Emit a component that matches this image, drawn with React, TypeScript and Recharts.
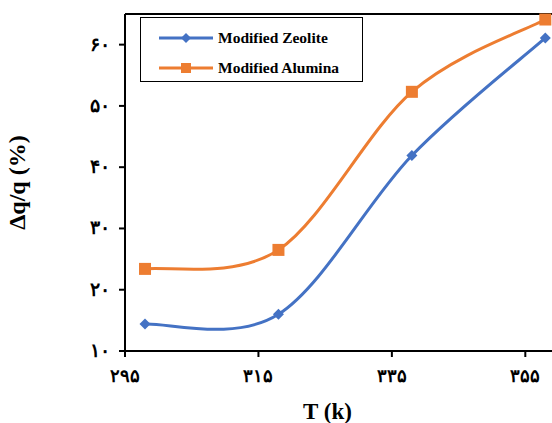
import React from 'react';
import { LineChart, Line, XAxis, YAxis, ReferenceLine, Legend, Label } from 'recharts';

const temps = [298, 318, 338, 358];
const zeolite = [14.4, 16.0, 41.9, 61.1];
const alumina = [23.4, 26.5, 52.3, 64.1];
const xTicks = [295, 315, 335, 355];
const yTicks = [10, 20, 30, 40, 50, 60];
const seriesNames = ['Modified Zeolite', 'Modified Alumina'];
const colors = ['#4472C4', '#ED7D31'];

const data = temps.map((t, i) => ({ t, zeolite: zeolite[i], alumina: alumina[i] }));

const toPersian = (n: number) => String(n).replace(/\d/g, (d) => '۰۱۲۳۴۵۶۷۸۹'[Number(d)]);

function excelCurve(context: any) {
  let pts: [number, number][] = [];
  return {
    areaStart() {},
    areaEnd() {},
    lineStart() { pts = []; },
    lineEnd() {
      if (!pts.length) return;
      context.moveTo(pts[0][0], pts[0][1]);
      const t = 1 / 6;
      for (let i = 0; i < pts.length - 1; i++) {
        const p0 = pts[i - 1] || pts[i];
        const p1 = pts[i];
        const p2 = pts[i + 1];
        const p3 = pts[i + 2] || p2;
        context.bezierCurveTo(
          p1[0] + (p2[0] - p0[0]) * t, p1[1] + (p2[1] - p0[1]) * t,
          p2[0] - (p3[0] - p1[0]) * t, p2[1] - (p3[1] - p1[1]) * t,
          p2[0], p2[1]
        );
      }
    },
    point(x: number, y: number) { pts.push([x, y]); },
  };
}

const Diamond = (props: any) => {
  const { cx, cy } = props;
  if (cx == null || cy == null) return null;
  const r = 5.5;
  return <path d={`M${cx},${cy - r}L${cx + r},${cy}L${cx},${cy + r}L${cx - r},${cy}Z`} fill={colors[0]} />;
};

const Square = (props: any) => {
  const { cx, cy } = props;
  if (cx == null || cy == null) return null;
  const s = 6;
  return <rect x={cx - s} y={cy - s} width={2 * s} height={2 * s} fill={colors[1]} />;
};

const font = '"Times New Roman", "Liberation Serif", serif';

const XTick = (props: any) => {
  const { x, y, payload } = props;
  return (
    <text x={x} y={y + 23} textAnchor="middle" fontFamily={font} fontWeight="bold" fontSize={18} fill="#000">
      {toPersian(payload.value)}
    </text>
  );
};

const YTick = (props: any) => {
  const { x, y, payload } = props;
  return (
    <text x={x - 7} y={y + 6} textAnchor="end" fontFamily={font} fontWeight="bold" fontSize={19} fill="#000">
      {toPersian(payload.value)}
    </text>
  );
};

const XLabel = (props: any) => {
  const vb = props.viewBox || {};
  return (
    <text x={vb.x + vb.width / 2 - 11} y={419} textAnchor="middle" fontFamily={font} fontWeight="bold" fontSize={23} fill="#000">
      T (k)
    </text>
  );
};

const LegendContent = () => (
  <div style={{ position: 'absolute', left: 140, top: 17, width: 221, height: 63, border: '1.5px solid #000', background: '#fff' }}>
    <svg width={221} height={63}>
      <line x1={18} x2={72} y1={20} y2={20} stroke={colors[0]} strokeWidth={3} />
      <path d="M45,15L50,20L45,25L40,20Z" fill={colors[0]} />
      <text x={77} y={25} fontFamily={font} fontWeight="bold" fontSize={15.5} fill="#000">{seriesNames[0]}</text>
      <line x1={18} x2={72} y1={50} y2={50} stroke={colors[1]} strokeWidth={3} />
      <rect x={40} y={45} width={10} height={10} fill={colors[1]} />
      <text x={77} y={55} fontFamily={font} fontWeight="bold" fontSize={15.5} fill="#000">{seriesNames[1]}</text>
    </svg>
  </div>
);

export default function App() {
  return (
    <div style={{ position: 'absolute', left: 0, top: 0, width: 552, height: 423, background: '#fff' }}>
      <LineChart width={552} height={423} data={data} margin={{ top: 14, right: 0, left: 0, bottom: 0 }}>
        <XAxis
          dataKey="t"
          type="number"
          domain={[295, 359]}
          ticks={xTicks}
          tick={<XTick />}
          tickSize={6}
          axisLine={{ stroke: '#000', strokeWidth: 2 }}
          tickLine={{ stroke: '#000', strokeWidth: 2 }}
          height={72}
        >
          <Label content={<XLabel />} />
        </XAxis>
        <YAxis
          type="number"
          domain={[10, 65]}
          ticks={yTicks}
          tick={<YTick />}
          tickSize={6}
          axisLine={{ stroke: '#000', strokeWidth: 2 }}
          tickLine={{ stroke: '#000', strokeWidth: 2 }}
          width={125}
          label={{ value: 'Δq/q (%)', angle: -90, position: 'insideLeft', offset: 16, style: { fontFamily: font, fontWeight: 'bold', fontSize: 24, fill: '#000', textAnchor: 'middle' } }}
        />
        <ReferenceLine y={65} stroke="#000" strokeWidth={2} />
        <Legend content={<LegendContent />} wrapperStyle={{ position: 'absolute', left: 0, top: 0, width: 0, height: 0 }} />
        <Line dataKey="zeolite" name={seriesNames[0]} type={excelCurve as any} stroke={colors[0]} strokeWidth={3} dot={<Diamond />} activeDot={false} isAnimationActive={false} />
        <Line dataKey="alumina" name={seriesNames[1]} type={excelCurve as any} stroke={colors[1]} strokeWidth={3} dot={<Square />} activeDot={false} isAnimationActive={false} />
      </LineChart>
    </div>
  );
}
